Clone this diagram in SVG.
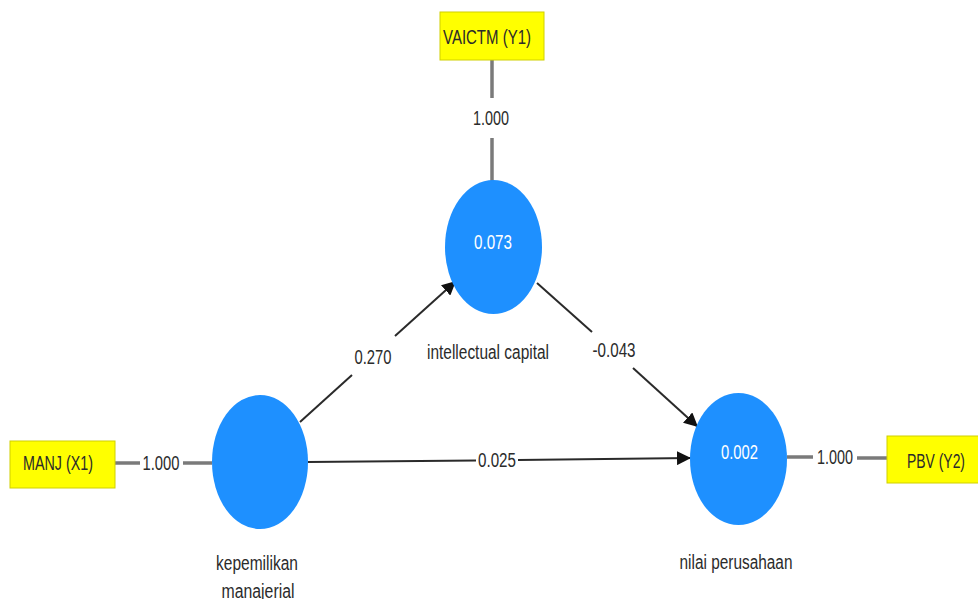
<svg xmlns="http://www.w3.org/2000/svg" width="978" height="599" viewBox="0 0 978 599">
<style>
text{font-family:"Liberation Sans",Arial,sans-serif;font-size:20px;fill:#2b2b2b;text-anchor:middle;dominant-baseline:central}
.box{fill:#ffff00;stroke:#d0d000;stroke-width:1}
.lv{fill:#1e90ff}
.lvt{fill:#ffffff}
.ld{stroke:#7a7a7a;stroke-width:3.5;fill:none}
.pt{stroke:#2a2a2a;stroke-width:2;fill:none}
</style>
<defs>
<marker id="ah2" viewBox="0 0 10 10" refX="10" refY="5" markerWidth="14" markerHeight="14" markerUnits="userSpaceOnUse" orient="auto">
<path d="M0,0 L10,5 L0,10 z" fill="#111"/>
</marker>
</defs>
<rect width="978" height="599" fill="#ffffff"/>
<g id="connectors">
<line class="ld" x1="492" y1="60" x2="492" y2="98"/>
<line class="ld" x1="492" y1="138" x2="492" y2="182"/>
<line class="ld" x1="115" y1="463" x2="140" y2="463"/>
<line class="ld" x1="183" y1="463" x2="212" y2="463"/>
<line class="ld" x1="787" y1="457" x2="813" y2="457"/>
<line class="ld" x1="857" y1="458" x2="887" y2="458"/>
<line class="pt" x1="300" y1="422" x2="352" y2="375"/>
<line class="pt" x1="395" y1="336" x2="456" y2="281" marker-end="url(#ah2)"/>
<line class="pt" x1="537" y1="283" x2="592" y2="332"/>
<line class="pt" x1="633" y1="368" x2="698" y2="427" marker-end="url(#ah2)"/>
<line class="pt" x1="308" y1="462" x2="476" y2="460.5"/>
<line class="pt" x1="518" y1="460" x2="691" y2="458" marker-end="url(#ah2)"/>
<text x="491" y="118" textLength="36" lengthAdjust="spacingAndGlyphs">1.000</text>
<text x="161" y="463" textLength="37" lengthAdjust="spacingAndGlyphs">1.000</text>
<text x="835" y="457" textLength="36" lengthAdjust="spacingAndGlyphs">1.000</text>
<text x="373" y="357" textLength="37" lengthAdjust="spacingAndGlyphs">0.270</text>
<text x="614" y="350" textLength="43" lengthAdjust="spacingAndGlyphs">-0.043</text>
<text x="497" y="460" textLength="38" lengthAdjust="spacingAndGlyphs">0.025</text>
</g>
<g id="vaictm">
<rect class="box" x="440" y="12" width="104" height="48"/>
<text x="487" y="37" textLength="88" lengthAdjust="spacingAndGlyphs">VAICTM (Y1)</text>
</g>
<g id="manj">
<rect class="box" x="10" y="441" width="105" height="47"/>
<text x="58" y="463" textLength="70" lengthAdjust="spacingAndGlyphs">MANJ (X1)</text>
</g>
<g id="pbv">
<rect class="box" x="887" y="436" width="95" height="47"/>
<text x="936" y="461" textLength="58" lengthAdjust="spacingAndGlyphs">PBV (Y2)</text>
</g>
<g id="intellectual-capital">
<ellipse class="lv" cx="493.5" cy="247" rx="48.5" ry="67"/>
<text class="lvt" x="493" y="242" textLength="38" lengthAdjust="spacingAndGlyphs">0.073</text>
<text x="488" y="352" textLength="122" lengthAdjust="spacingAndGlyphs">intellectual capital</text>
</g>
<g id="kepemilikan-manajerial">
<ellipse class="lv" cx="260" cy="462" rx="48" ry="67"/>
<text x="257" y="563" textLength="82" lengthAdjust="spacingAndGlyphs">kepemilikan</text>
<text x="258" y="591" textLength="73" lengthAdjust="spacingAndGlyphs">manajerial</text>
</g>
<g id="nilai-perusahaan">
<ellipse class="lv" cx="738.5" cy="459" rx="48.5" ry="66"/>
<text class="lvt" x="739.5" y="452" textLength="37" lengthAdjust="spacingAndGlyphs">0.002</text>
<text x="736" y="562" textLength="113" lengthAdjust="spacingAndGlyphs">nilai perusahaan</text>
</g>
</svg>
